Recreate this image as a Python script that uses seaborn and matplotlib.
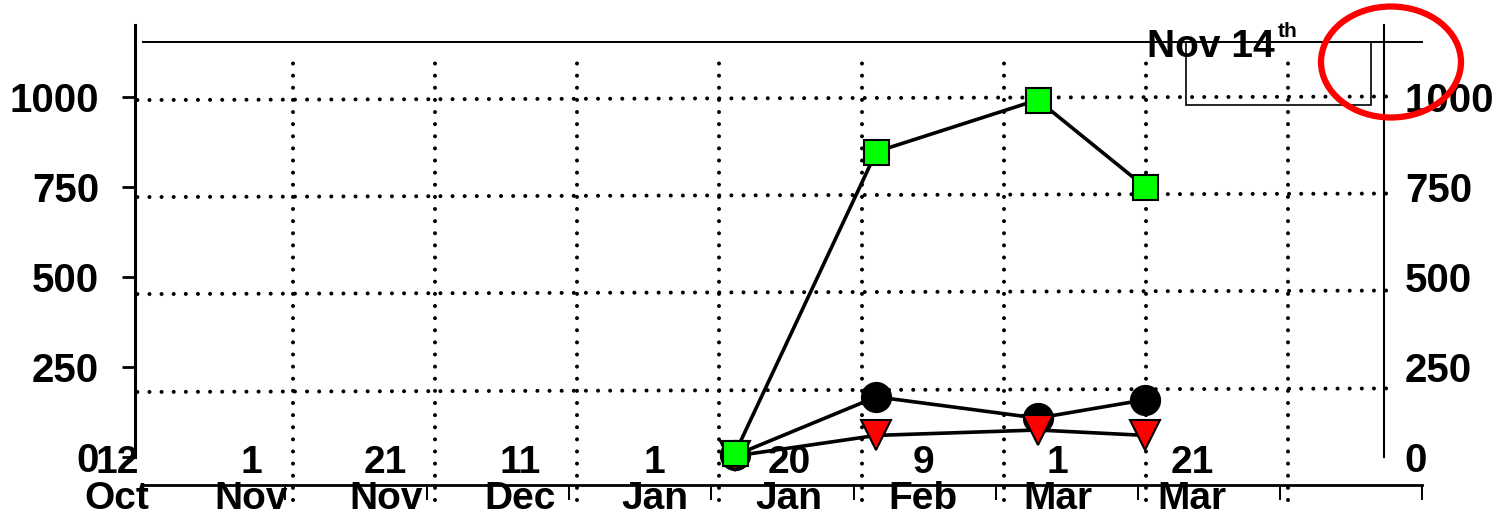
import matplotlib
matplotlib.use('Agg')
import matplotlib.pyplot as plt
import matplotlib.transforms as mtransforms
from matplotlib.patches import Rectangle, Ellipse
import seaborn as sns

# sampling dates, as days counted from 12 Oct
sample_day = [92, 113, 137, 153]
green_sq = [12, 848, 992, 750]
black_dot = [5, 167, 108, 159]
red_tri = [3, 60, 75, 60]

# x axis labels (every 20 days)
tick_day = [0, 20, 40, 60, 80, 100, 120, 140, 160]
tick_num = ['12', '1', '21', '11', '1', '20', '9', '1', '21']
tick_month = ['Oct', 'Nov', 'Nov', 'Dec', 'Jan', 'Jan', 'Feb', 'Mar', 'Mar']
y_ticks = [0, 250, 500, 750, 1000]

sns.set_style('white')
plt.rcParams['font.family'] = ['Liberation Sans', 'DejaVu Sans']
plt.rcParams['font.weight'] = 'bold'
plt.rcParams['text.color'] = 'black'
plt.rcParams['axes.edgecolor'] = 'black'
plt.rcParams['xtick.color'] = 'black'
plt.rcParams['ytick.color'] = 'black'

W, H = 1506, 514
fig = plt.figure(figsize=(W / 100, H / 100), dpi=100)

def px_box(x0, x1, ytop, ybot):
    return [x0 / W, 1 - ybot / H, (x1 - x0) / W, (ybot - ytop) / H]

# frame layer with the dotted grid (it sits a bit off the data scale, as in the original)
gax = fig.add_axes(px_box(143, 1422, 42, 485))
gax.set_xlim(0, 9)
gax.set_ylim(0, 1)
gax.patch.set_visible(False)
for side in ['left', 'right']:
    gax.spines[side].set_visible(False)
gax.spines['top'].set_linewidth(1.4)
gax.spines['bottom'].set_linewidth(2.0)
gax.set_xticks(range(10))
gax.set_xticklabels([])
gax.set_yticks([])
gax.tick_params(axis='x', direction='out', length=11, width=1.4, bottom=True)

dot = dict(color='black', lw=2.9, linestyle=(0, (0.01, 3.0)), dash_capstyle='round', clip_on=False)
for k in range(1, 9):
    gax.plot([k + 0.056, k + 0.056], [-0.034, 0.97], **dot)
for lev in [0.869, 0.650, 0.431, 0.210]:
    gax.plot([-0.04, 8.81], [lev, lev + 0.008], **dot)

# data layer
ax = fig.add_axes(px_box(135, 1384, 25, 457))
ax.patch.set_visible(False)
ax.set_xlim((135 - 117) / 6.72, (1384 - 117) / 6.72)
ax.set_ylim(0, 1200)

line = dict(color='black', lw=2.6, clip_on=False, mec='black', mew=1.5)
sns.lineplot(x=sample_day, y=black_dot, ax=ax, marker='o', markersize=21,
             markerfacecolor='black', zorder=3, **line)
sns.lineplot(x=sample_day, y=red_tri, ax=ax, marker='v', markersize=21,
             markerfacecolor='#ff0000', zorder=4, **line)
sns.lineplot(x=sample_day, y=green_sq, ax=ax, marker='s', markersize=18,
             markerfacecolor='#00ff00', zorder=5, **line)
ax.set_xlabel('')
ax.set_ylabel('')

ax.spines['top'].set_visible(False)
ax.spines['bottom'].set_visible(False)
ax.spines['left'].set_linewidth(2.2)
ax.spines['right'].set_linewidth(1.5)
ax.set_xticks([])
ax.set_yticks(y_ticks)
ax.set_yticklabels([str(v) for v in y_ticks], fontsize=29, fontweight='bold')
ax.tick_params(axis='y', direction='out', length=9.5, width=2, pad=16.5, left=True)

rax = ax.twinx()
rax.set_ylim(ax.get_ylim())
rax.set_yticks(y_ticks)
rax.set_yticklabels([str(v) for v in y_ticks], fontsize=29, fontweight='bold')
rax.tick_params(axis='y', length=0, pad=15)
for side in ['top', 'bottom', 'left', 'right']:
    rax.spines[side].set_visible(False)

trans = mtransforms.blended_transform_factory(ax.transData, ax.transAxes)
for d, num, mon in zip(tick_day, tick_num, tick_month):
    ax.text(d, -0.037, num, transform=trans, ha='center', va='baseline',
            fontsize=28, fontweight='bold', clip_on=False)
    ax.text(d, -0.121, mon, transform=trans, ha='center', va='baseline',
            fontsize=28, fontweight='bold', clip_on=False)

# title box in the corner
fig.text(1147 / W, 1 - 57 / H, 'Nov 14', fontsize=28, fontweight='bold', va='baseline')
fig.text(1278 / W, 1 - 37 / H, 'th', fontsize=15, fontweight='bold', va='baseline')
fig.add_artist(Rectangle((1186 / W, 1 - 105 / H), (1371 - 1186) / W, 63 / H,
                         transform=fig.transFigure, fill=False, lw=1.2, ec='black'))
fig.add_artist(Ellipse((1391 / W, 1 - 62 / H), 140 / W, 111 / H,
                       transform=fig.transFigure, fill=False, lw=4.5, ec='#ff0000'))

fig.savefig('out.png', dpi=100)
